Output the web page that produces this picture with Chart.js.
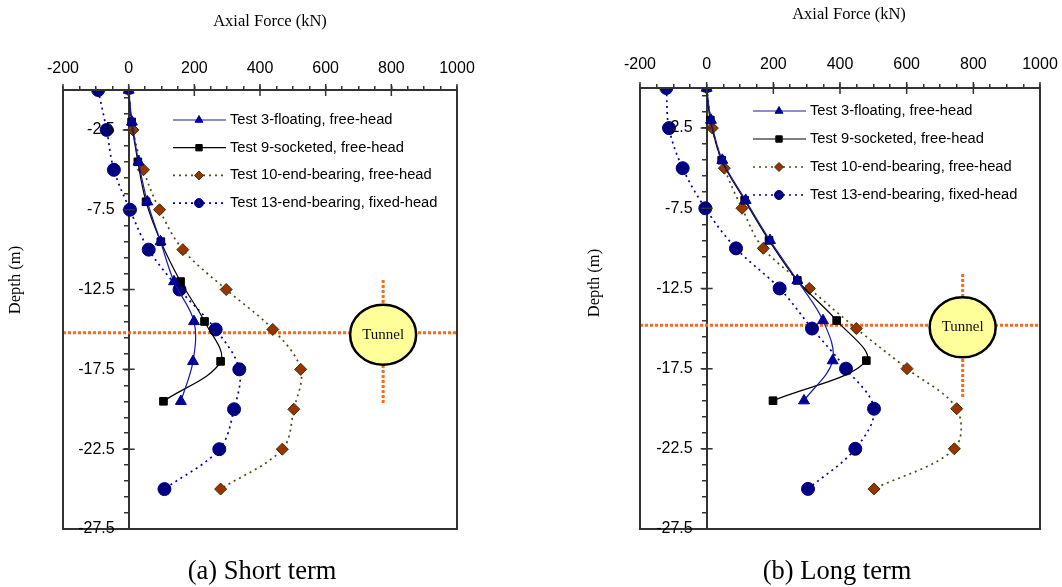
<!DOCTYPE html>
<html>
<head>
<meta charset="utf-8">
<script src="https://cdn.jsdelivr.net/npm/chart.js@4.4.1/dist/chart.umd.min.js"></script>
<style>
  body { margin: 0; background: #fff; }
  #wrap { position: relative; width: 1062px; height: 587px; }
  canvas { position: absolute; top: 0; }
  #shortChart { left: 0; }
  #longChart { left: 531px; }
</style>
</head>
<body>
<div id="wrap">
  <canvas id="shortChart" width="531" height="587"></canvas>
  <canvas id="longChart" width="531" height="587"></canvas>
</div>
<script>
// gauge depths (m)
const depthFree = [0, -2, -4.5, -7, -9.5, -12, -14.5, -17, -19.5];
const depthEnd = [0, -2.5, -5, -7.5, -10, -12.5, -15, -17.5, -20, -22.5, -25];

const seriesNames = [
    'Test 3-floating, free-head',
    'Test 9-socketed, free-head',
    'Test 10-end-bearing, free-head',
    'Test 13-end-bearing, fixed-head'
];

// (a) short term, axial force (kN)
const shortTest3 = [0, 10, 30, 57, 97, 138, 199, 196, 159];
const shortTest9 = [0, 9, 28, 53, 98, 158, 231, 280, 106];
const shortTest10 = [0, 13, 45, 94, 165, 297, 439, 524, 503, 468, 280];
const shortTest13 = [-93, -67, -45, 4, 61, 155, 265, 337, 321, 276, 109];

// (b) long term, axial force (kN)
const longTest3 = [0, 13, 47, 117, 190, 272, 349, 378, 292];
const longTest9 = [0, 11, 45, 114, 187, 272, 390, 479, 199];
const longTest10 = [0, 17, 53, 106, 170, 308, 449, 601, 750, 743, 502];
const longTest13 = [-121, -113, -72, -4, 88, 219, 316, 418, 502, 446, 304];

const xTickLabels = [-200, 0, 200, 400, 600, 800, 1000];
const yTickLabels = [-2.5, -7.5, -12.5, -17.5, -22.5, -27.5];

// tunnel marker, [short, long]
const tunnelForce = [775, 768];
const tunnelDepth = [-15.2, -14.8];
const tunnelLineTop = [-11.9, -11.6];
const tunnelLineBottom = [-19.7, -19.3];

const sansFont = "'Liberation Sans', Arial, sans-serif";
const serifFont = "'Liberation Serif', 'Times New Roman', serif";

function pts(xs, ys) {
    return xs.map((x, i) => ({ x: x, y: ys[i] }));
}

function buildDatasets(t3, t9, t10, t13, k) {
    return [
        {
            label: seriesNames[0], data: pts(t3, depthFree),
            borderColor: '#1a1aa6', borderWidth: 1.2, tension: 0.35,
            pointStyle: 'triangle', pointRadius: 6.3,
            pointBackgroundColor: '#000099', pointBorderColor: '#000099', pointBorderWidth: 1
        },
        {
            label: seriesNames[1], data: pts(t9, depthFree),
            borderColor: '#000000', borderWidth: 1.2, tension: 0.35,
            pointStyle: 'rect', pointRadius: 5.4,
            pointBackgroundColor: '#000000', pointBorderColor: '#000000', pointBorderWidth: 1
        },
        {
            label: seriesNames[2], data: pts(t10, depthEnd),
            borderColor: '#4d4d0d', borderWidth: 1.7, borderDash: [2, 4], tension: 0.35,
            pointStyle: 'rectRot', pointRadius: 6,
            pointBackgroundColor: '#993300', pointBorderColor: '#333300', pointBorderWidth: 1
        },
        {
            label: seriesNames[3], data: pts(t13, depthEnd),
            borderColor: '#000099', borderWidth: 1.7, borderDash: [2, 4], tension: 0.35,
            pointStyle: 'circle', pointRadius: 6.5,
            pointBackgroundColor: '#000080', pointBorderColor: '#000080', pointBorderWidth: 1
        },
        {
            label: '', tunnel: true,
            data: [{ x: -200, y: tunnelDepth[k] }, { x: 1000, y: tunnelDepth[k] }],
            borderColor: '#ff6a13', borderWidth: 3, borderDash: [3, 2], pointRadius: 0, tension: 0
        },
        {
            label: '', tunnel: true,
            data: [{ x: tunnelForce[k], y: tunnelLineTop[k] }, { x: tunnelForce[k], y: tunnelLineBottom[k] }],
            borderColor: '#ff6a13', borderWidth: 3, borderDash: [3, 2], pointRadius: 0, tension: 0
        }
    ];
}

// frame, depth labels, inner major ticks, tunnel, legend and texts
const panelDecor = {
    id: 'panelDecor',
    afterDatasetsDraw(chart, args, o) {
        const ctx = chart.ctx;
        const xs = chart.scales.x, ys = chart.scales.y;
        // tunnel
        const cx = xs.getPixelForValue(tunnelForce[o.k]);
        const cy = ys.getPixelForValue(tunnelDepth[o.k]);
        ctx.save();
        ctx.beginPath();
        ctx.ellipse(cx, cy + 2, 33, 30, 0, 0, Math.PI * 2);
        ctx.fillStyle = '#ffff99';
        ctx.fill();
        ctx.lineWidth = 2.5;
        ctx.strokeStyle = '#000';
        ctx.stroke();
        ctx.fillStyle = '#111';
        ctx.font = '15px ' + serifFont;
        ctx.textAlign = 'center';
        ctx.textBaseline = 'middle';
        ctx.fillText('Tunnel', cx, cy + 2);
        ctx.restore();
    },
    afterDraw(chart, args, o) {
        const ctx = chart.ctx;
        const a = chart.chartArea;
        const xs = chart.scales.x, ys = chart.scales.y;
        ctx.save();
        // frame
        ctx.strokeStyle = '#333';
        ctx.lineWidth = 2;
        ctx.strokeRect(a.left, a.top, a.right - a.left, a.bottom - a.top);
        // major ticks crossing the axes
        ctx.lineWidth = 1.5;
        const x0 = xs.getPixelForValue(0);
        ctx.beginPath();
        xTickLabels.forEach(v => {
            const px = xs.getPixelForValue(v);
            ctx.moveTo(px, a.top - 6);
            ctx.lineTo(px, a.top + 6);
        });
        yTickLabels.forEach(v => {
            const py = ys.getPixelForValue(v);
            ctx.moveTo(x0 - 6, py);
            ctx.lineTo(x0 + 6, py);
        });
        ctx.stroke();

        // depth labels beside the x = 0 axis
        ctx.fillStyle = '#000';
        ctx.font = '16px ' + sansFont;
        ctx.textAlign = 'right';
        ctx.textBaseline = 'middle';
        yTickLabels.forEach(v => {
            ctx.fillText(String(v), x0 - o.yLabelGap, ys.getPixelForValue(v));
        });

        // legend
        chart.data.datasets.forEach((ds, i) => {
            if (ds.tunnel) return;
            const y = o.legendY + i * o.legendGap;
            ctx.save();
            ctx.strokeStyle = ds.borderColor;
            ctx.lineWidth = ds.borderWidth;
            ctx.setLineDash(ds.borderDash || []);
            ctx.beginPath();
            ctx.moveTo(o.legendX, y);
            ctx.lineTo(o.legendX + 53, y);
            ctx.stroke();
            ctx.setLineDash([]);
            ctx.fillStyle = ds.pointBackgroundColor;
            ctx.strokeStyle = ds.pointBorderColor;
            ctx.lineWidth = 1;
            Chart.helpers.drawPoint(ctx, { pointStyle: ds.pointStyle, radius: 4.5, rotation: 0, borderWidth: 1 }, o.legendX + 26, y);
            ctx.restore();
            ctx.fillStyle = '#000';
            ctx.font = '14.7px ' + sansFont;
            ctx.textAlign = 'left';
            ctx.textBaseline = 'middle';
            ctx.fillText(ds.label, o.legendX + 57, y);
        });

        // texts
        ctx.fillStyle = '#000';
        ctx.textAlign = 'center';
        ctx.textBaseline = 'middle';
        ctx.font = '16.5px ' + serifFont;
        ctx.fillText('Axial Force (kN)', o.titleX, o.titleY);
        ctx.save();
        ctx.translate(o.yTitleX, o.yTitleY);
        ctx.rotate(-Math.PI / 2);
        ctx.fillText('Depth (m)', 0, 0);
        ctx.restore();
        ctx.font = '26.5px ' + serifFont;
        ctx.fillText(o.caption, o.captionX, o.captionY);
        ctx.restore();
    }
};

function makePanel(id, datasets, o) {
    return new Chart(document.getElementById(id), {
        type: 'scatter',
        data: { datasets: datasets },
        plugins: [panelDecor],
        options: {
            responsive: false,
            animation: false,
            showLine: true,
            layout: { padding: o.padding },
            plugins: {
                legend: { display: false },
                tooltip: { enabled: false },
                panelDecor: o
            },
            scales: {
                x: {
                    type: 'linear', position: 'top', min: -200, max: 1000,
                    afterBuildTicks: s => {
                        s.ticks = [];
                        for (let v = -200; v <= 1000; v += 50) s.ticks.push({ value: v });
                    },
                    afterFit: s => {
                        s.height = 34;
                        s.paddingLeft = 0;
                        s.paddingRight = 0;
                    },
                    ticks: {
                        autoSkip: false, maxRotation: 0, padding: o.xLabelPad, color: '#000',
                        font: { family: sansFont, size: 16 },
                        callback: v => xTickLabels.includes(v) ? String(v) : ''
                    },
                    grid: { drawOnChartArea: false, tickLength: 4, color: '#333', lineWidth: 1.5 },
                    border: { display: true, color: '#333', width: 2 }
                },
                y: {
                    type: 'linear', position: { x: 0 }, min: -27.5, max: 0,
                    afterBuildTicks: s => {
                        s.ticks = [];
                        for (let v = -27.5; v < 0; v += 1) s.ticks.push({ value: v });
                    },
                    ticks: {
                        autoSkip: false, padding: 6, color: '#000',
                        font: { family: sansFont, size: 15 },
                        callback: () => ''
                    },
                    grid: { drawOnChartArea: false, tickLength: 4, color: '#333', lineWidth: 1.5 },
                    border: { display: true, color: '#333', width: 2 }
                }
            }
        }
    });
}

makePanel('shortChart', buildDatasets(shortTest3, shortTest9, shortTest10, shortTest13, 0), {
    k: 0,
    padding: { left: 63, right: 74, top: 56, bottom: 58 },
    xLabelPad: 8, yLabelGap: 14,
    legendX: 173, legendY: 120, legendGap: 27.7,
    titleX: 270, titleY: 22,
    yTitleX: 16, yTitleY: 280,
    caption: '(a) Short term', captionX: 262, captionY: 572
});

makePanel('longChart', buildDatasets(longTest3, longTest9, longTest10, longTest13, 1), {
    k: 1,
    padding: { left: 109, right: 22, top: 54, bottom: 58 },
    xLabelPad: 10, yLabelGap: 14,
    legendX: 222, legendY: 111, legendGap: 28,
    titleX: 318, titleY: 15,
    yTitleX: 64, yTitleY: 283,
    caption: '(b) Long term', captionX: 306, captionY: 572
});
</script>
</body>
</html>
